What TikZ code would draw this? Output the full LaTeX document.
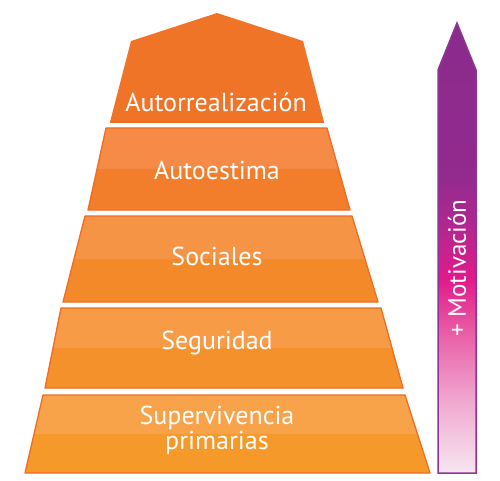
\documentclass[tikz,border=0pt]{standalone}
\usepackage{fontspec}
\setmainfont{PT Sans}
\definecolor{lvledge}{HTML}{EF6C22}
\definecolor{cimaor}{HTML}{F07428}
\definecolor{dosa}{HTML}{F58B47}
\definecolor{dosb}{HTML}{F27E2B}
\definecolor{tresa}{HTML}{F69446}
\definecolor{tresb}{HTML}{F4892A}
\definecolor{cuatroa}{HTML}{F79B46}
\definecolor{cuatrob}{HTML}{F5912A}
\definecolor{cincoa}{HTML}{F8A349}
\definecolor{cincob}{HTML}{F6992B}
\definecolor{motivedge}{HTML}{8E3592}
\definecolor{motiva}{HTML}{F7E6F1}
\definecolor{motivb}{HTML}{F0A8D0}
\definecolor{motivc}{HTML}{E85AA4}
\definecolor{motivd}{HTML}{E11A8B}
\definecolor{motive}{HTML}{B52690}
\definecolor{motivf}{HTML}{932A8E}
\definecolor{motivg}{HTML}{8A2B8D}
\pgfdeclareverticalshading{motivshade}{100bp}{%
  color(0bp)=(motiva); color(25bp)=(motiva);
  color(33bp)=(motivb); color(41bp)=(motivc);
  color(46.5bp)=(motivd); color(52bp)=(motive);
  color(58bp)=(motivf); color(75bp)=(motivg);
  color(100bp)=(motivg)}
\begin{document}
\begin{tikzpicture}[x=1pt,y=-1pt,
	edge/.style={draw=lvledge,line width=1.3pt,line join=round},
	lvltext/.style={text=white,font=\fontsize{26}{25}\selectfont,align=center}]
	\useasboundingbox (0,0) rectangle (500,481);
	% cima
	\fill[cimaor] (217,13)--(303,41)--(324,122)--(110,122)--(131,41)--cycle;
	\draw[edge] (110,122)--(324,122);
	\node[lvltext] (autorrealizacion) at (216,102) {Autorrealización};
	% autoestima
	\fill[dosa] (106,128)--(327,128)--(338.5,169)--(97,169)--cycle;
	\fill[dosb] (97,169)--(338.5,169)--(350,210)--(88,210)--cycle;
	\draw[edge] (106,128)--(327,128)--(350,210)--(88,210)--cycle;
	\node[lvltext] (autoestima) at (217,170) {Autoestima};
	% sociales
	\fill[tresa] (85,216)--(352,216)--(365,259)--(74,259)--cycle;
	\fill[tresb] (74,259)--(365,259)--(378,302)--(63,302)--cycle;
	\draw[edge] (85,216)--(352,216)--(378,302)--(63,302)--cycle;
	\node[lvltext] (sociales) at (217,256) {Sociales};
	% seguridad
	\fill[cuatroa] (61,308)--(381,308)--(392,348)--(53,348)--cycle;
	\fill[cuatrob] (53,348)--(392,348)--(403,388)--(45,388)--cycle;
	\draw[edge] (61,308)--(381,308)--(403,388)--(45,388)--cycle;
	\node[lvltext] (seguridad) at (217,343) {Seguridad};
	% supervivencia
	\fill[cincoa] (43,395)--(405,395)--(417.5,434)--(34,434)--cycle;
	\fill[cincob] (34,434)--(417.5,434)--(430,473)--(25,473)--cycle;
	\draw[edge] (43,395)--(405,395)--(430,473)--(25,473)--cycle;
	\node[lvltext] (supervivencia) at (217,430) {Supervivencia\\primarias};
	% flecha
	\draw[motivedge,line width=1.5pt,shading=motivshade]
		(457,23)--(476,70)--(476,473)--(438,473)--(438,70)--cycle;
	\node[lvltext,font=\fontsize{25}{25}\selectfont,rotate=90] (motivacion) at (457,268) {+ Motivación};
\end{tikzpicture}
\end{document}
